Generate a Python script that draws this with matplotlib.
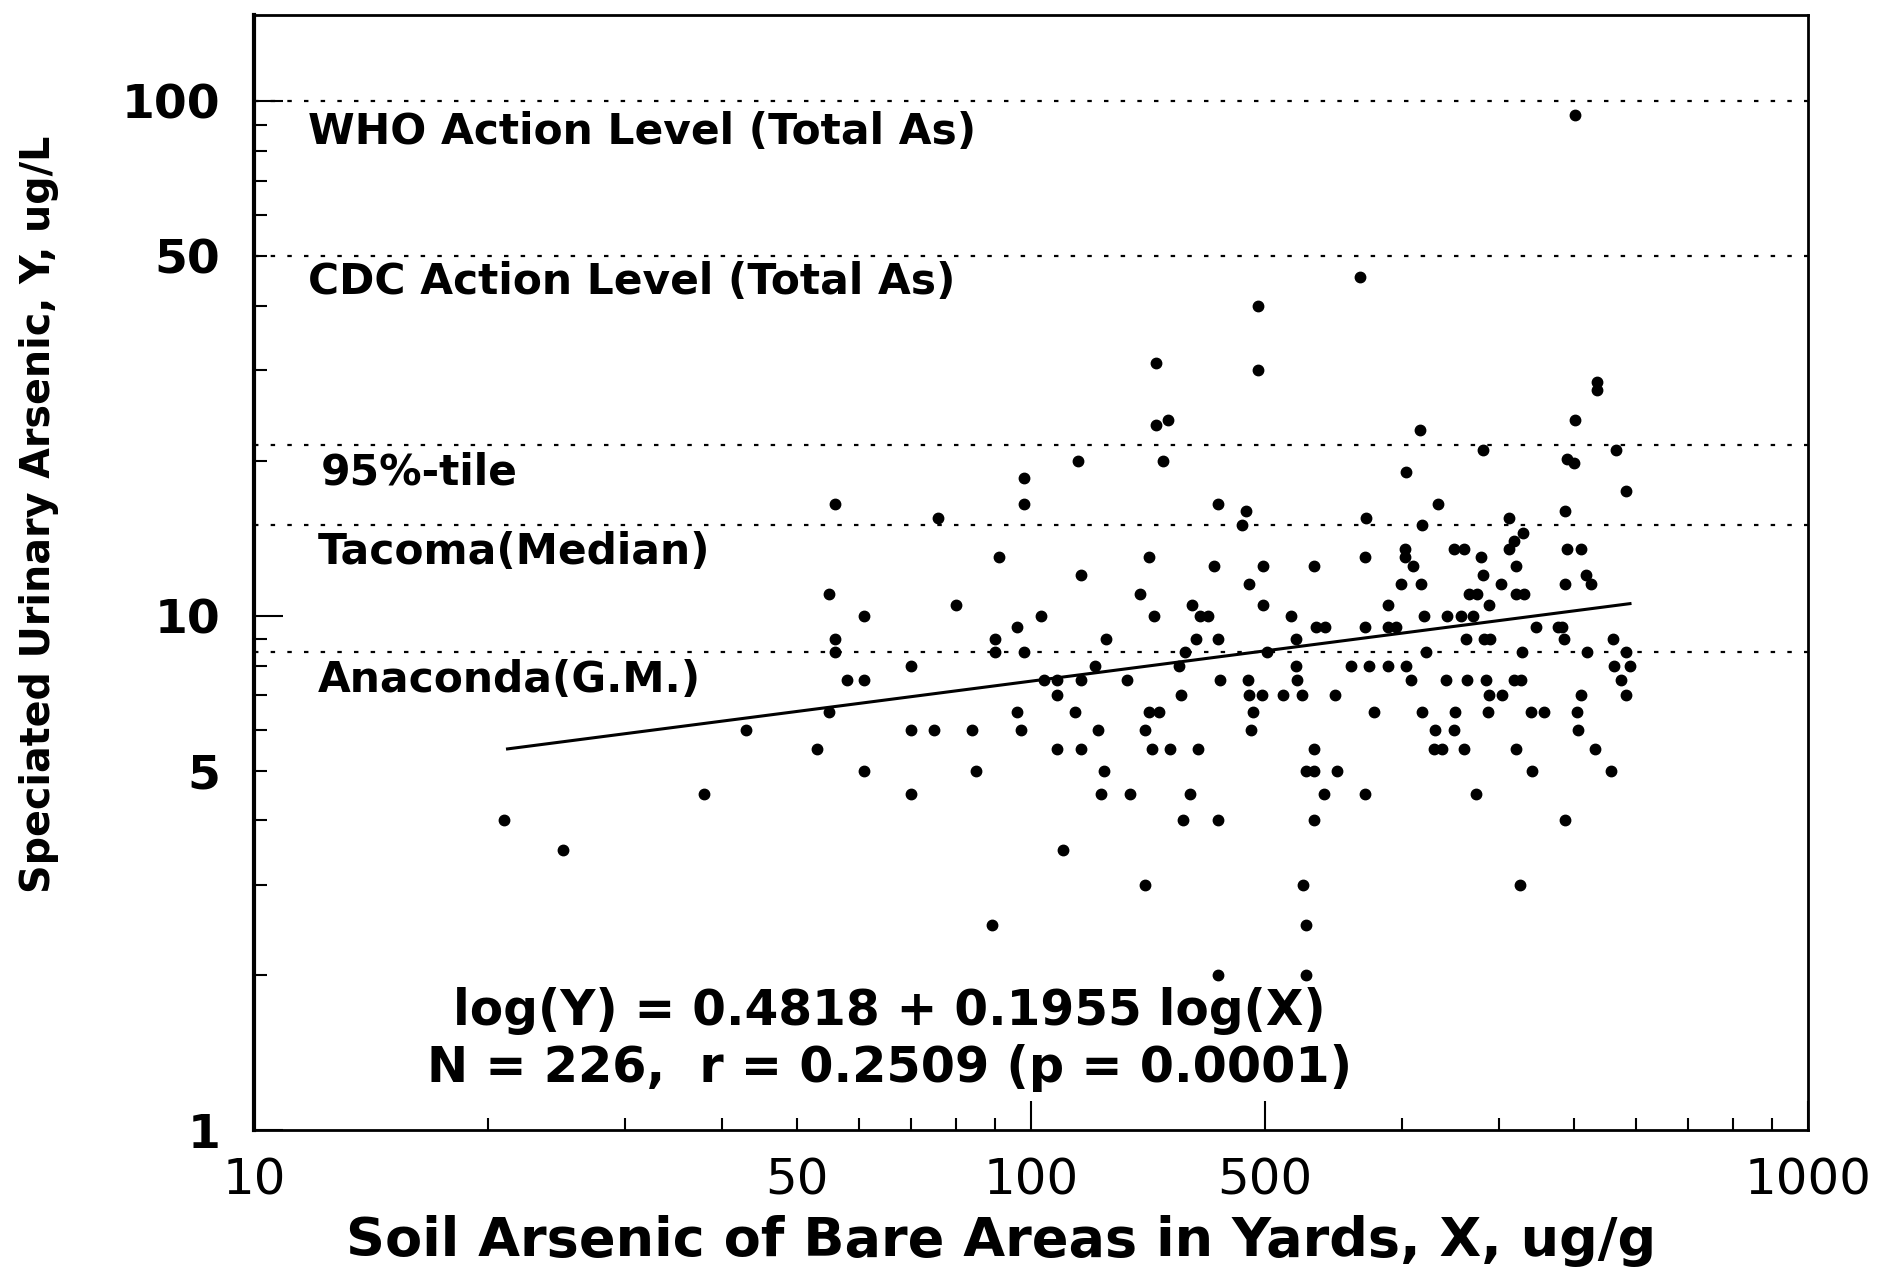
import numpy as np
import matplotlib
matplotlib.use("Agg")
import matplotlib.pyplot as plt
from matplotlib.ticker import FixedLocator, FixedFormatter

# soil arsenic (ug/g) and speciated urinary arsenic (ug/L)
soil_as = [56, 55, 61, 56, 56, 58, 61, 55, 43, 53, 61, 38, 21, 25,
           196, 145, 196, 150, 145, 115, 148, 98, 98, 174, 189, 76, 187, 91, 142, 116,
           172, 199, 231, 191, 138, 80, 161, 199, 103, 144, 165, 169, 216, 96, 233,
           90, 125, 163, 174, 219, 90, 98, 158, 201, 70, 121, 219, 155, 104, 108,
           116, 133, 175, 190, 220, 108, 156, 191, 198, 211, 223, 96, 114, 142, 146,
           193, 70, 75, 84, 97, 122, 140, 192, 108, 116, 143, 151, 164, 85, 124,
           70, 123, 134, 160, 157, 174, 110, 140, 89, 174,
           265, 535, 535, 501, 317, 382, 566, 490, 500, 304, 583, 334, 270, 412, 487,
           319, 430, 418, 412, 303, 350, 361, 490, 510, 269, 303, 379, 310, 421, 382,
           518, 299, 318, 402, 487, 525, 366, 375, 421, 431, 288, 389, 320, 343, 358,
           371, 239, 269, 288, 295, 446, 476, 483, 363, 383, 390, 485, 561, 322, 429,
           519, 583, 258, 272, 288, 304, 563, 590, 308, 342, 364, 385, 418, 427, 574,
           246, 389, 404, 510, 583, 276, 319, 351, 387, 440, 457, 505, 331, 350, 506,
           231, 330, 338, 361, 421, 532, 226, 231, 248, 441, 557, 238, 269, 374, 231,
           487, 224, 426, 226, 226, 501]
urine_as = [16.5, 11, 10, 9, 8.5, 7.5, 7.5, 6.5, 6, 5.5, 5, 4.5, 4, 3.5,
            40, 31, 30, 24, 23.5, 20, 20, 18.5, 16.5, 16.5, 16, 15.5, 15, 13, 13, 12,
            12.5, 12.5, 12.5, 11.5, 11, 10.5, 10.5, 10.5, 10, 10, 10, 10, 10, 9.5, 9.5,
            9, 9, 9, 9, 9, 8.5, 8.5, 8.5, 8.5, 8, 8, 8, 8, 7.5, 7.5,
            7.5, 7.5, 7.5, 7.5, 7.5, 7, 7, 7, 7, 7, 7, 6.5, 6.5, 6.5, 6.5,
            6.5, 6, 6, 6, 6, 6, 6, 6, 5.5, 5.5, 5.5, 5.5, 5.5, 5, 5,
            4.5, 4.5, 4.5, 4.5, 4, 4, 3.5, 3, 2.5, 2,
            45.5, 28.5, 27.5, 24, 23, 21, 21, 20.2, 19.8, 19, 17.5, 16.5, 15.5, 15.5, 16,
            15, 14.5, 14, 13.5, 13.5, 13.5, 13.5, 13.5, 13.5, 13, 13, 13, 12.5, 12.5, 12,
            12, 11.5, 11.5, 11.5, 11.5, 11.5, 11, 11, 11, 11, 10.5, 10.5, 10, 10, 10,
            10, 9.5, 9.5, 9.5, 9.5, 9.5, 9.5, 9.5, 9, 9, 9, 9, 9, 8.5, 8.5,
            8.5, 8.5, 8, 8, 8, 8, 8, 8, 7.5, 7.5, 7.5, 7.5, 7.5, 7.5, 7.5,
            7, 7, 7, 7, 7, 6.5, 6.5, 6.5, 6.5, 6.5, 6.5, 6.5, 6, 6, 6,
            5.5, 5.5, 5.5, 5.5, 5.5, 5.5, 5, 5, 5, 5, 5, 4.5, 4.5, 4.5, 4,
            4, 3, 3, 2.5, 2, 94]

# reference levels (dotted lines) and their labels
ref_levels = [100, 50, 21.5, 15, 8.5]
ref_names = ["WHO Action Level (Total As)", "CDC Action Level (Total As)",
             "95%-tile", "Tacoma(Median)", "Anaconda(G.M.)"]
ref_label_y = [87, 44.5, 19.0, 13.3, 7.5]
ref_label_x = [0.035, 0.035, 0.043, 0.041, 0.041]

# regression log(Y) = a + b log(X), drawn over the data range
fit_a, fit_b = 0.4818, 0.1955
fit_x = np.array([21.2, 590])

plt.rcParams['font.family'] = ['DejaVu Sans']

fig = plt.figure(figsize=(18.98, 12.67), dpi=100)
ax = fig.add_axes([0.1338, 0.108, 0.8188, 0.880])
ax.set_xscale('log')
ax.set_yscale('log')
ax.set_xlim(10, 1000)
ax.set_ylim(1, 147)

for lvl in ref_levels:
    ax.axhline(lvl, color='k', lw=1.6, ls=(0, (2, 5.5)), zorder=1)
trans = ax.get_yaxis_transform()
for name, yy, xx in zip(ref_names, ref_label_y, ref_label_x):
    ax.text(xx, yy, name, transform=trans, ha='left', va='center',
            fontsize=30.5, fontweight='bold')

ax.plot(soil_as, urine_as, 'o', color='k', ms=7.5, zorder=3)
ax.plot(fit_x, 10 ** (fit_a + fit_b * np.log10(fit_x)), color='k', lw=2.2, zorder=2)

ax.text(0.409, 0.107, "log(Y) = 0.4818 + 0.1955 log(X)", transform=ax.transAxes,
        ha='center', va='center', fontsize=35, fontweight='bold')
ax.text(0.409, 0.056, "N = 226,  r = 0.2509 (p = 0.0001)", transform=ax.transAxes,
        ha='center', va='center', fontsize=35.5, fontweight='bold')

# y ticks: long at decades, short minors, labels at 5 and 50 too
ax.yaxis.set_major_locator(FixedLocator([1, 10, 100]))
ax.yaxis.set_major_formatter(FixedFormatter(['1', '10', '100']))
ymin = [2, 3, 4, 5, 6, 7, 8, 9, 20, 30, 40, 50, 60, 70, 80, 90]
ax.yaxis.set_minor_locator(FixedLocator(ymin))
ax.yaxis.set_minor_formatter(FixedFormatter(['5' if v == 5 else '50' if v == 50 else '' for v in ymin]))

# x ticks as labelled on the scan
ax.xaxis.set_major_locator(FixedLocator([10, 100, 200, 1000]))
ax.xaxis.set_major_formatter(FixedFormatter(['10', '100', '500', '1000']))
xmin = [20, 30, 40, 50, 60, 70, 80, 90, 300, 400, 500, 600, 700, 800, 900]
ax.xaxis.set_minor_locator(FixedLocator(xmin))
ax.xaxis.set_minor_formatter(FixedFormatter(['50' if v == 50 else '' for v in xmin]))

ax.tick_params(which='both', direction='in', width=1.5)
ax.tick_params(which='major', length=21)
ax.tick_params(which='minor', length=9)
ax.tick_params(axis='y', which='both', pad=24)
ax.tick_params(axis='x', which='both', pad=19)
for lab in ax.get_yticklabels(which='both'):
    lab.set_fontsize(34)
    lab.set_fontweight('bold')
for lab in ax.get_xticklabels(which='both'):
    lab.set_fontsize(36)

for sp in ax.spines.values():
    sp.set_linewidth(2)
ax.spines['left'].set_linewidth(3)

ax.set_xlabel("Soil Arsenic of Bare Areas in Yards, X, ug/g", fontsize=39,
              fontweight='bold', va='center')
ax.xaxis.set_label_coords(0.481, -0.0996)
ax.set_ylabel("Speciated Urinary Arsenic, Y, ug/L", fontsize=28.5, fontweight='bold',
              va='center')
ax.yaxis.set_label_coords(-0.138, 0.552)

fig.savefig("out.png", dpi=100)
